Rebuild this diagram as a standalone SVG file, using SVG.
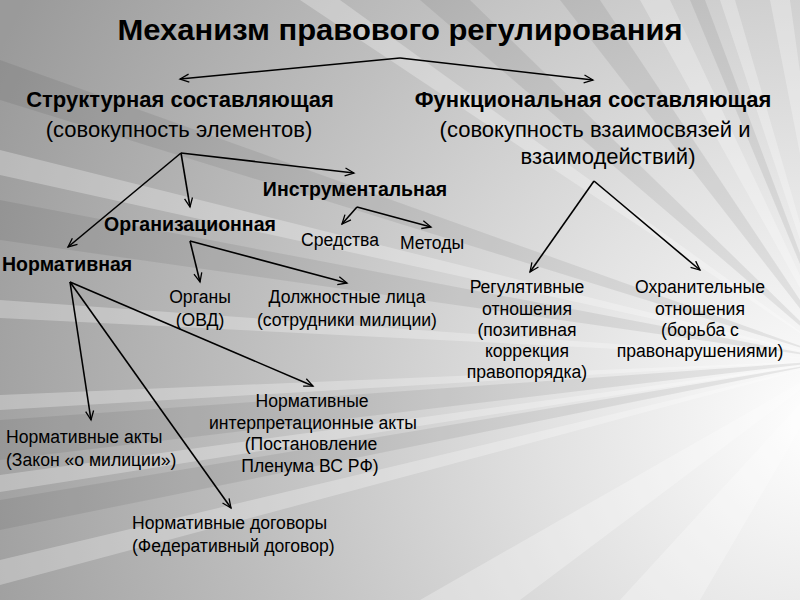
<svg xmlns="http://www.w3.org/2000/svg" width="800" height="600" viewBox="0 0 800 600">
<defs>
<radialGradient id="bg" cx="820" cy="420" r="900" gradientUnits="userSpaceOnUse">
<stop offset="0" stop-color="#ffffff"/>
<stop offset="0.3" stop-color="#e2e2e2"/>
<stop offset="0.65" stop-color="#bdbdbd"/>
<stop offset="1" stop-color="#9a9a9a"/>
</radialGradient>
<marker id="ah" markerUnits="userSpaceOnUse" markerWidth="12" markerHeight="12" refX="10" refY="5" orient="auto">
<path d="M1,1 L10,5 L1,9" fill="none" stroke="#000" stroke-width="1.3"/>
</marker>
<style>
.t{font-family:"Liberation Sans",Arial,sans-serif;fill:#000}
.b{font-weight:bold}
.c{stroke:#000;stroke-width:1.6;fill:none;marker-end:url(#ah)}
.lw{fill:#fff;opacity:0.28}
.dk{fill:#000;opacity:0.07}
.h{font-size:22px}
.s{font-size:19.5px;font-weight:bold}
.n{font-size:17.6px}
</style>
</defs>
<rect width="800" height="600" fill="url(#bg)"/>
<g id="streaks">
<polygon class="lw" points="840,360 0,560 0,585"/>
<polygon class="lw" points="840,360 0,475 0,492"/>
<polygon class="lw" points="840,360 0,395 0,410"/>
<polygon class="lw" points="840,360 0,300 0,318"/>
<polygon class="lw" points="840,360 0,150 0,175"/>
<polygon class="lw" points="840,360 300,0 340,0"/>
<polygon class="lw" points="840,360 640,0 670,0"/>
<polygon class="lw" points="840,360 720,0 735,0"/>
<polygon class="lw" points="840,360 770,0 790,0"/>
<polygon class="lw" points="840,360 800,80 800,140"/>
<polygon class="lw" points="840,360 420,600 520,600"/>
<polygon class="lw" points="840,360 620,600 700,600"/>
<polygon class="dk" points="840,360 0,500 0,530"/>
<polygon class="dk" points="840,360 0,420 0,460"/>
<polygon class="dk" points="840,360 0,200 0,240"/>
<polygon class="dk" points="840,360 0,60 0,100"/>
<polygon class="dk" points="840,360 420,0 470,0"/>
<polygon class="dk" points="840,360 560,0 600,0"/>
<polygon class="dk" points="840,360 690,0 705,0"/>
</g>
<g id="connectors">
<line class="c" x1="400" y1="58" x2="180" y2="79"/>
<line class="c" x1="400" y1="58" x2="593" y2="80"/>
<line class="c" x1="181" y1="153" x2="354" y2="173"/>
<line class="c" x1="181" y1="153" x2="190" y2="207"/>
<line class="c" x1="181" y1="153" x2="68" y2="247"/>
<line class="c" x1="357" y1="207" x2="342" y2="224"/>
<line class="c" x1="357" y1="207" x2="431" y2="227"/>
<line class="c" x1="190" y1="241" x2="200" y2="282"/>
<line class="c" x1="190" y1="241" x2="347" y2="283"/>
<line class="c" x1="70" y1="282" x2="91" y2="420"/>
<line class="c" x1="70" y1="282" x2="231" y2="508"/>
<line class="c" x1="70" y1="282" x2="313" y2="386"/>
<line class="c" x1="594" y1="181" x2="530" y2="272"/>
<line class="c" x1="594" y1="181" x2="700" y2="270"/>
</g>
<g id="title"><text class="t b" x="400" y="40" font-size="29" text-anchor="middle" textLength="565" lengthAdjust="spacingAndGlyphs">Механизм правового регулирования</text></g>
<g id="structural">
<text class="t b h" x="180" y="107" text-anchor="middle">Структурная составляющая</text>
<text class="t h" x="179" y="137" text-anchor="middle">(совокупность элементов)</text>
</g>
<g id="functional">
<text class="t b h" x="593" y="107" text-anchor="middle">Функциональная составляющая</text>
<text class="t h" x="595" y="137" text-anchor="middle">(совокупность взаимосвязей и</text>
<text class="t h" x="608" y="164" text-anchor="middle">взаимодействий)</text>
</g>
<g id="instrumental"><text class="t s" x="355" y="196" text-anchor="middle">Инструментальная</text></g>
<g id="organizational"><text class="t s" x="190" y="231" text-anchor="middle">Организационная</text></g>
<g id="normative"><text class="t s" x="2" y="271">Нормативная</text></g>
<g id="means"><text class="t n" x="340" y="246" text-anchor="middle">Средства</text></g>
<g id="methods"><text class="t n" x="432" y="249" text-anchor="middle">Методы</text></g>
<g id="organs"><text class="t n" text-anchor="middle"><tspan x="200" y="303">Органы</tspan><tspan x="200" y="326">(ОВД)</tspan></text></g>
<g id="officials"><text class="t n" text-anchor="middle"><tspan x="347" y="303">Должностные лица</tspan><tspan x="347" y="326">(сотрудники милиции)</tspan></text></g>
<g id="interp"><text class="t n" text-anchor="middle"><tspan x="312" y="407">Нормативные</tspan><tspan x="313" y="429">интерпретационные акты</tspan><tspan x="311" y="450">(Постановление</tspan><tspan x="310" y="472">Пленума ВС РФ)</tspan></text></g>
<g id="acts"><text class="t n"><tspan x="6" y="443">Нормативные акты</tspan><tspan x="6" y="466">(Закон «о милиции»)</tspan></text></g>
<g id="treaties"><text class="t n"><tspan x="132" y="529">Нормативные договоры</tspan><tspan x="132" y="552">(Федеративный договор)</tspan></text></g>
<g id="regulative"><text class="t n" text-anchor="middle"><tspan x="527" y="293">Регулятивные</tspan><tspan x="527" y="315">отношения</tspan><tspan x="527" y="336">(позитивная</tspan><tspan x="527" y="357">коррекция</tspan><tspan x="527" y="378">правопорядка)</tspan></text></g>
<g id="protective"><text class="t n" text-anchor="middle"><tspan x="700" y="293">Охранительные</tspan><tspan x="700" y="315">отношения</tspan><tspan x="700" y="336">(борьба с</tspan><tspan x="700" y="357">правонарушениями)</tspan></text></g>
</svg>
